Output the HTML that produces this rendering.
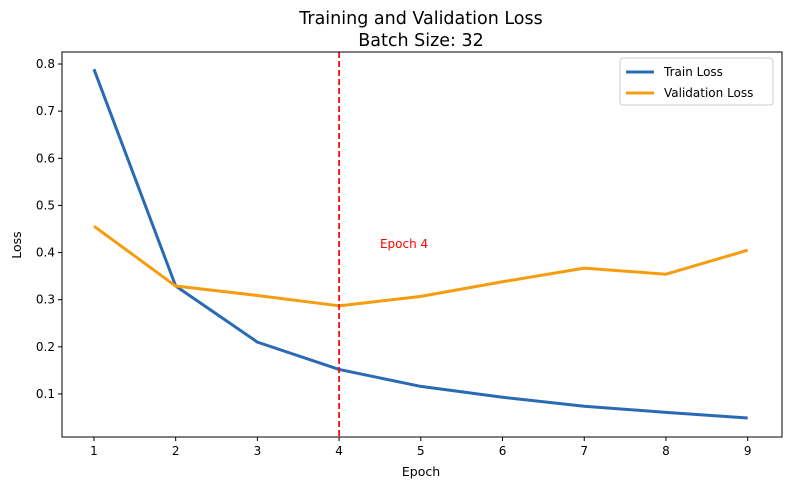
<!DOCTYPE html>
<html><head><meta charset="utf-8"><style>
body{margin:0;background:#fff;font-family:"DejaVu Sans","Liberation Sans",sans-serif;}
svg text{font-family:"DejaVu Sans","Liberation Sans",sans-serif;}
</style></head><body>
<svg id="chart" width="790" height="489">
<text x="421" y="24" text-anchor="middle" font-size="17.5">Training and Validation Loss</text>
<text x="421" y="46" text-anchor="middle" font-size="17.5">Batch Size: 32</text>
<g id="plot"></g>
<text x="421" y="476" text-anchor="middle" font-size="12.5">Epoch</text>
<text x="21" y="245" text-anchor="middle" font-size="12.5" transform="rotate(-90 21 245)">Loss</text>
</svg>
<script>
const epochs=[1,2,3,4,5,6,7,8,9];
const trainLoss=[0.789,0.329,0.210,0.152,0.116,0.093,0.074,0.061,0.049];
const valLoss=[0.456,0.329,0.309,0.287,0.307,0.338,0.367,0.354,0.405];
const xTicks=[1,2,3,4,5,6,7,8,9];
const yTicks=[0.1,0.2,0.3,0.4,0.5,0.6,0.7,0.8];
const markEpoch=4;
const L=62,R=782,T=52,B=437;
const xMin=0.609,xMax=9.42,yMin=0.0087,yMax=0.8255;
const X=v=>L+(v-xMin)/(xMax-xMin)*(R-L);
const Y=v=>B-(v-yMin)/(yMax-yMin)*(B-T);
const NS="http://www.w3.org/2000/svg";
const g=document.getElementById('plot');
function mk(t,a){const e=document.createElementNS(NS,t);for(const k in a)e.setAttribute(k,a[k]);g.appendChild(e);return e;}
xTicks.forEach(v=>{
 const l=mk('line',{x1:X(v),x2:X(v),y1:B,y2:B+4,stroke:'#000'});
 
 
 const t=mk('text',{x:X(v),y:B+18,'text-anchor':'middle','font-size':12});t.textContent=v;
 
 
});
yTicks.forEach(v=>{
 const l=mk('line',{x1:L-4,x2:L,y1:Y(v),y2:Y(v),stroke:'#000'});
 
 
 const t=mk('text',{x:L-7,y:Y(v)+4,'text-anchor':'end','font-size':12});t.textContent=v.toFixed(1);
 
 
});
function line(vals,color,name){
 const p=mk('polyline',{points:vals.map((v,i)=>X(epochs[i])+','+Y(v)).join(' '),fill:'none',stroke:color,'stroke-width':3,'stroke-linejoin':'round'});
 
 
}
line(trainLoss,'#2a6ab4','train-loss-line');
line(valLoss,'#f59d0e','validation-loss-line');
const vl=mk('line',{x1:X(markEpoch),x2:X(markEpoch),y1:T,y2:B,stroke:'#f00','stroke-width':1.7,'stroke-dasharray':'6,3'});


const an=mk('text',{x:X(4.5),y:Y(0.418)+4,fill:'#f00','font-size':12});an.textContent='Epoch 4';


const fr=mk('rect',{x:L,y:T,width:R-L,height:B-T,fill:'none',stroke:'#000'});


const lg=mk('rect',{x:620,y:58,width:153,height:47,fill:'#fff',stroke:'#ccc',rx:3});


[['Train Loss','#2a6ab4',72],['Validation Loss','#f59d0e',93]].forEach(([n,c,y])=>{
 const l=mk('line',{x1:626,x2:654,y1:y,y2:y,stroke:c,'stroke-width':3});
 
 
 const t=mk('text',{x:664,y:y+4,'font-size':12});t.textContent=n;
 
 
});
</script>
</body></html>
